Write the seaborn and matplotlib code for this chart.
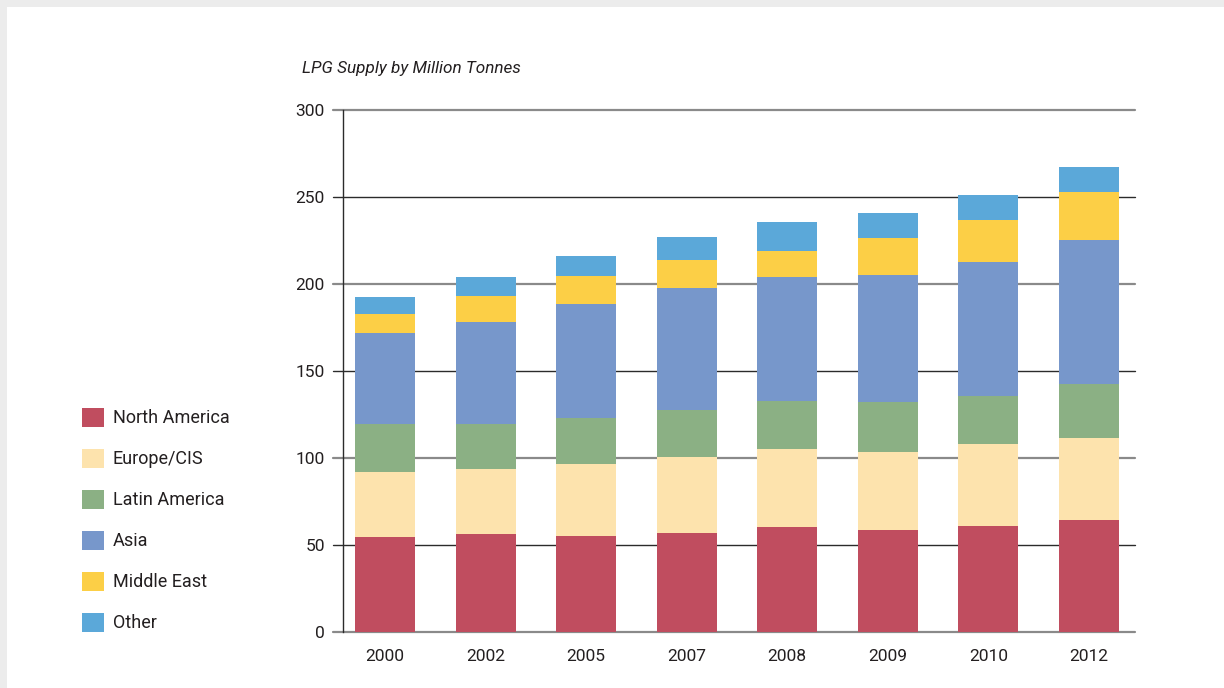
import numpy as np
import pandas as pd
import matplotlib.pyplot as plt
import seaborn as sns
from matplotlib.patches import Patch, Rectangle

# Data (million tonnes)
years = ['2000', '2002', '2005', '2007', '2008', '2009', '2010', '2012']
north_america = [54.7, 56.4, 55.3, 57.0, 60.4, 58.7, 60.9, 64.5]
europe_cis = [37.3, 37.3, 41.3, 43.6, 44.8, 44.7, 47.1, 47.0]
latin_america = [27.5, 25.8, 26.4, 27.0, 27.6, 28.8, 27.6, 31.0]
asia = [52.3, 58.7, 65.5, 70.1, 71.2, 73.0, 77.0, 82.8]
middle_east = [11.0, 14.9, 16.1, 16.1, 15.0, 21.2, 24.2, 27.6]
other = [9.7, 10.9, 11.5, 13.2, 16.6, 14.4, 14.3, 14.3]

regions = ['North America', 'Europe/CIS', 'Latin America', 'Asia', 'Middle East', 'Other']
colors = ['#c04d5f', '#fde3ad', '#8bb084', '#7797cb', '#fccf46', '#5ba8d9']
series = [north_america, europe_cis, latin_america, asia, middle_east, other]

sns.set_theme(style='white')
plt.rcParams['font.family'] = ['Roboto', 'DejaVu Sans']

fig = plt.figure(figsize=(12.24, 6.88), dpi=100)
fig.patch.set_facecolor('white')
# light gray frame along top and left edges
fig.patches.append(Rectangle((0, 1 - 7 / 688), 1, 7 / 688, transform=fig.transFigure,
                             facecolor='#ececec', edgecolor='none'))
fig.patches.append(Rectangle((0, 0), 7 / 1224, 1, transform=fig.transFigure,
                             facecolor='#ececec', edgecolor='none'))

ax = fig.add_axes([343 / 1224, 1 - 632 / 688, 792 / 1224, 522 / 688])

# stacked bars: draw cumulative totals from the top layer down
cum = np.cumsum(np.array(series), axis=0)
for i in range(len(series) - 1, -1, -1):
    df = pd.DataFrame({'year': years, 'value': cum[i]})
    sns.barplot(data=df, x='year', y='value', color=colors[i], saturation=1,
                width=0.6, errorbar=None, ax=ax, zorder=2,
                edgecolor='none', linewidth=0)

ax.set_ylim(0, 300)
ax.set_xlim(-0.42, 7.46)

# gridlines, alternating gray and dark, extending a little left of the axis
ytr = ax.get_yaxis_transform()
for v in range(0, 301, 50):
    c = '#8a8a8a' if v % 100 == 0 else '#2b2b2b'
    lw = 1.6 if v % 100 == 0 else 1.0
    ax.plot([-10 / 792, 1], [v, v], transform=ytr, color=c, lw=lw,
            clip_on=False, zorder=0.5)

for s in ['top', 'right', 'bottom']:
    ax.spines[s].set_visible(False)
ax.spines['left'].set_color('#2b2b2b')
ax.spines['left'].set_linewidth(1.0)
ax.spines['left'].set_zorder(3)

ax.set_yticks(range(0, 301, 50))
ax.tick_params(axis='y', length=0, pad=13, labelsize=12.5, labelcolor='#231f20')
ax.tick_params(axis='x', length=0, pad=12, labelsize=12.5, labelcolor='#231f20')
ax.set_xlabel('')
ax.set_ylabel('')

fig.text(302 / 1224, 1 - 68 / 688, 'LPG Supply by Million Tonnes', fontsize=12.3,
         style='italic', color='#231f20', ha='left', va='center')

handles = [Patch(facecolor=c, edgecolor='none') for c in colors]
fig.legend(handles, regions, loc='upper left', bbox_to_anchor=(82 / 1224, 1 - 408 / 688),
           frameon=False, fontsize=13, handlelength=1.2, handleheight=1.2,
           labelspacing=1.2, handletextpad=0.5, borderpad=0, borderaxespad=0,
           labelcolor='#231f20')

fig.savefig('out.png', dpi=100)
